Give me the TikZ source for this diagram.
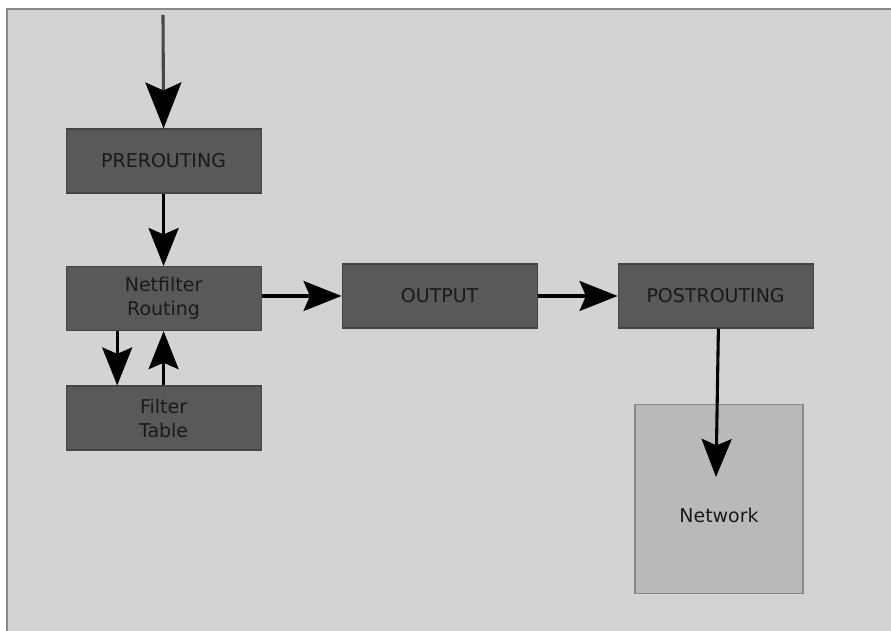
\documentclass[tikz,border=0pt]{standalone}
\usepackage{fontspec}
\setmainfont{DejaVu Sans}
\usetikzlibrary{arrows.meta,positioning}
\definecolor{canvasgray}{RGB}{211,211,211}
\definecolor{framegray}{RGB}{136,136,136}
\definecolor{chaingray}{RGB}{89,89,89}
\definecolor{chainedge}{RGB}{68,68,68}
\definecolor{netgray}{RGB}{185,185,185}
\definecolor{inkgray}{RGB}{26,26,26}
\tikzset{
  pipe/.style={-{Stealth[length=9.5mm,width=7.5mm,inset=1.6mm]},black,line width=2.2pt},
  entry/.style={-{Stealth[length=11.5mm,width=9mm,inset=2mm,color=black]},black!72,line width=2.2pt},
  chain/.style={draw=chainedge,line width=0.8pt,fill=chaingray,minimum width=48.75mm,
                minimum height=16mm,inner sep=2pt,align=center,text=inkgray,
                font=\fontsize{13.5}{17}\selectfont},
  sink/.style={chain,fill=netgray,draw=framegray,minimum width=42mm,minimum height=47.25mm},
}

\begin{document}
\begin{tikzpicture}[x=1cm,y=1cm]
  \path[use as bounding box] (0,0) rectangle (22.275,15.775);
  \fill[white] (0,0) rectangle (22.275,15.775);
  \draw[framegray,fill=canvasgray,line width=0.8pt] (0.175,-0.5) rectangle (22.8,15.55);

  \coordinate (feed) at (4.075,15.4);
  \node[chain] (pre) at (4.09,11.75) {PREROUTING};
  \node[chain] (route) at (4.09,8.31) {Netfilter\\Routing};
  \node[chain] (filter) at (4.09,5.325) {Filter\\Table};
  \node[chain] (out) at (10.99,8.375) {OUTPUT};
  \node[chain] (post) at (17.89,8.375) {POSTROUTING};
  \node[sink] (net) at (17.975,3.29) {\raisebox{-5.8mm}[0pt][0pt]{Network}};
  \coordinate (netin) at (17.9,3.85);

  \draw[entry] (feed)--(pre.north);
  \draw[pipe] (pre.south)--(route.north);
  \draw[pipe] ([xshift=-11.6mm]route.south)--([xshift=-11.6mm]filter.north);
  \draw[pipe] (filter.north)--(route.south);
  \draw[pipe] (route.east |- out.west)--(out.west);
  \draw[pipe] (out.east)--(post.west);
  \draw[pipe] ([xshift=0.7mm]post.south)--(netin);
\end{tikzpicture}
\end{document}
